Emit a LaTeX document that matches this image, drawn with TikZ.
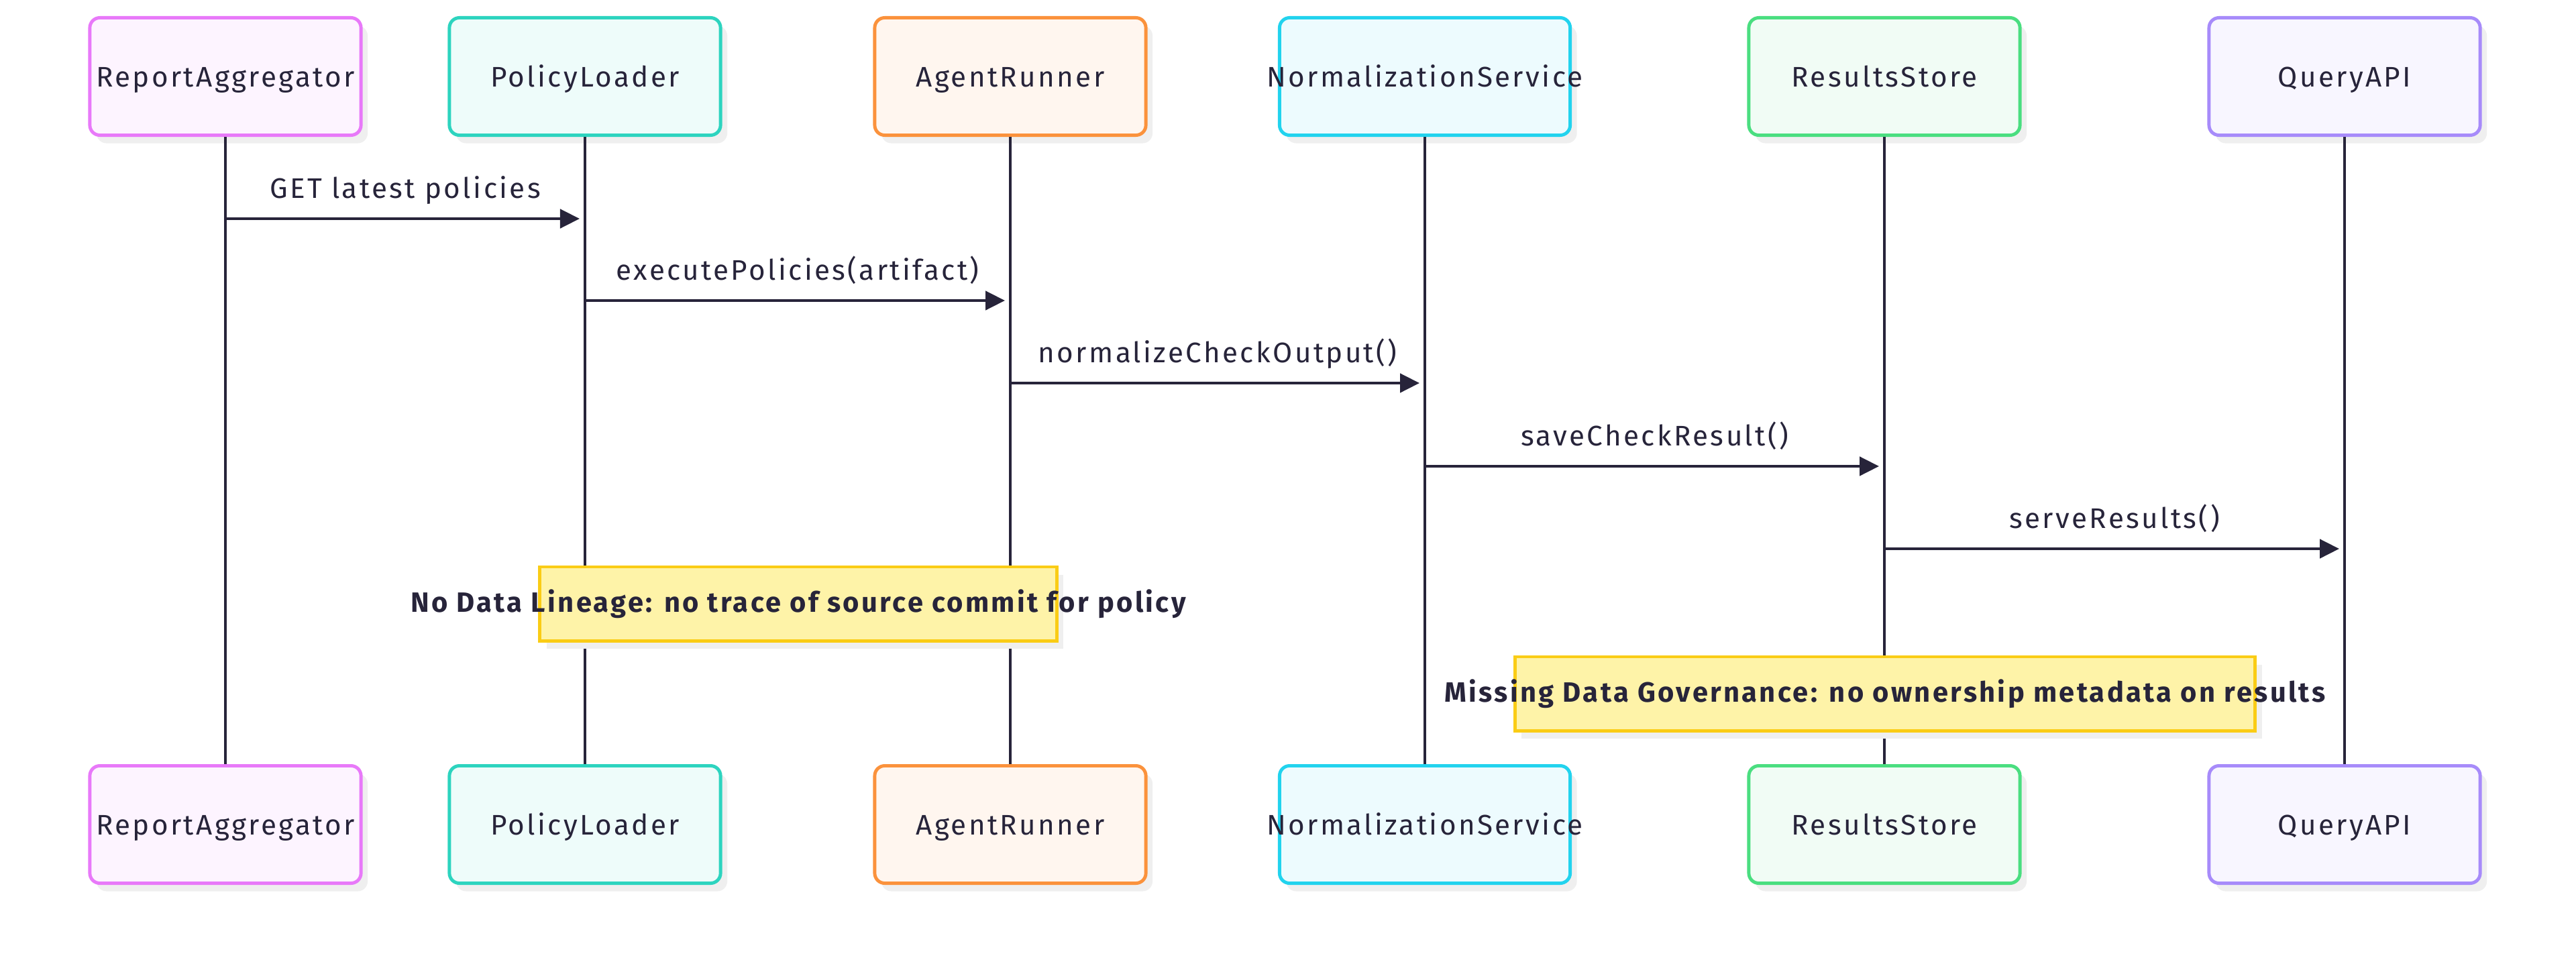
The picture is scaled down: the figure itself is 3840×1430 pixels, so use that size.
\documentclass[tikz,border=0pt]{standalone}
\usepackage{fontspec}
\setmainfont{Fira Sans}[LetterSpace=8]
\usetikzlibrary{arrows.meta,shadows,positioning}
\definecolor{aggC}{RGB}{232,121,249}
\definecolor{policyC}{RGB}{45,212,191}
\definecolor{runnerC}{RGB}{251,146,60}
\definecolor{normC}{RGB}{34,211,238}
\definecolor{storeC}{RGB}{74,222,128}
\definecolor{queryC}{RGB}{167,139,250}
\definecolor{noteC}{RGB}{254,243,168}
\definecolor{noteEdge}{RGB}{250,204,21}
\definecolor{inkC}{RGB}{39,36,58}
\definecolor{shadeC}{RGB}{239,239,239}

\begin{document}
\begin{tikzpicture}[x=0.01cm,y=-0.01cm,font=\fontsize{12}{14}\selectfont,
  >={Triangle[length=0.29cm,width=0.28cm]},
  boxshade/.style={drop shadow={shadow xshift=0.1cm,shadow yshift=-0.12cm,fill=shadeC,opacity=1}},
  actor/.style={draw=#1,fill=#1!8,line width=1.4pt,rounded corners=0.15cm,
    minimum height=1.75cm,inner sep=0pt,text=inkC,text height=1.85ex,text depth=0.15ex,boxshade},
  life/.style={inkC,line width=1.3pt},
  call/.style={->,inkC,line width=1.3pt,shorten >=0.08cm},
  callabel/.style={text=inkC,anchor=base,yshift=0.3cm},
  note/.style={draw=noteEdge,fill=noteC,line width=1.4pt,minimum height=1.1cm,
    inner sep=0pt,boxshade},
  notetext/.style={text=inkC,font=\bfseries\fontsize{11.85}{14}\selectfont}]
  \path[use as bounding box,fill=white] (0,0) rectangle (3840,1430);
  % participants, top and bottom, with their lifelines
  \foreach \nm/\lbl/\col/\xx/\ww in {ra/ReportAggregator/aggC/336/4.04cm,
      pl/PolicyLoader/policyC/872/4.04cm, ar/AgentRunner/runnerC/1506/4.04cm,
      ns/NormalizationService/normC/2124/4.33cm, rs/ResultsStore/storeC/2809/4.04cm,
      qa/QueryAPI/queryC/3495/4.04cm}{
    \node[actor=\col,minimum width=\ww] (\nm top) at (\xx,114) {\makebox[0pt]{\lbl}};
    \node[actor=\col,minimum width=\ww] (\nm bot) at (\xx,1229) {\makebox[0pt]{\lbl}};
    \draw[life] (\nm top) -- (\nm bot);
  }
  % messages
  \foreach \src/\dst/\yy/\txt in {ra/pl/326/GET latest policies,
      pl/ar/448/executePolicies(artifact), ar/ns/571/normalizeCheckOutput(),
      ns/rs/695/saveCheckResult(), rs/qa/818/serveResults()}{
    \draw[call] (\src top |- 0,\yy) -- (\dst top |- 0,\yy)
      node[callabel,midway] {\txt};
  }
  % notes
  \node[note,minimum width=7.7cm] (lineage) at (1190,900) {};
  \node[notetext] (lineagetxt) at (lineage)
    {No Data Lineage: no trace of source commit for policy};
  \node[note,minimum width=11.03cm] (governance) at (2810,1034) {};
  \node[notetext] (governancetxt) at (governance)
    {Missing Data Governance: no ownership metadata on results};
\end{tikzpicture}
\end{document}
